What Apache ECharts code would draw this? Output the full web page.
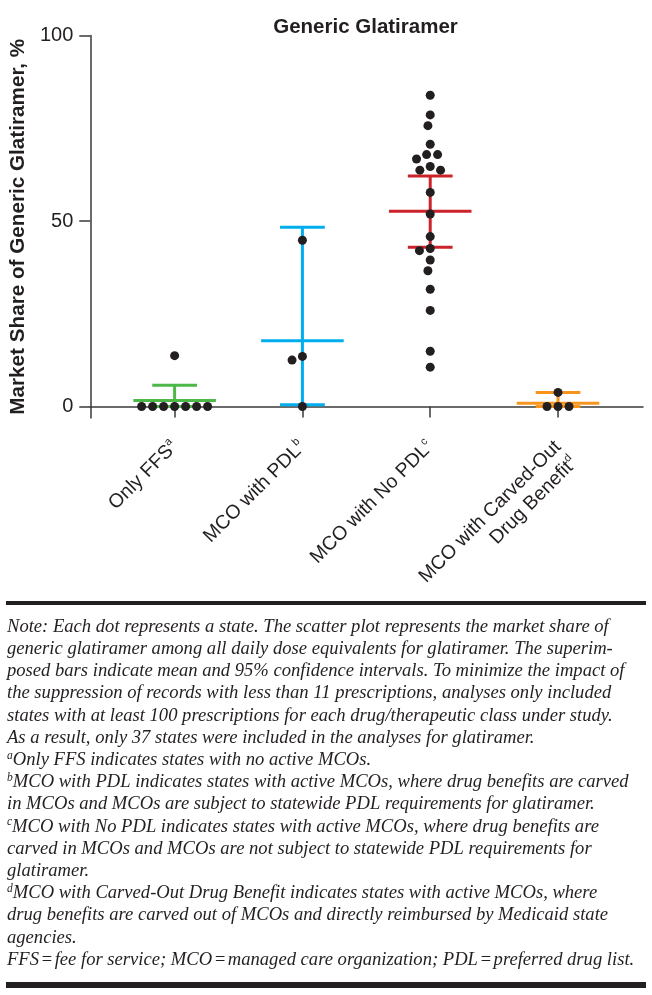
<!DOCTYPE html>
<html><head><meta charset="utf-8">
<script src="https://cdn.jsdelivr.net/npm/echarts@6/dist/echarts.min.js"></script>
<style>html,body{margin:0;padding:0;background:#fff}#c{width:652px;height:995px}</style>
</head><body><div id="c"></div>
<script>
// ---------- data ----------
const titleText = 'Generic Glatiramer';
const yAxisTitle = 'Market Share of Generic Glatiramer, %';
const categories = ['Only FFS', 'MCO with PDL', 'MCO with No PDL', 'MCO with Carved-Out\nDrug Benefit'];
const categorySup = ['a', 'b', 'c', 'd'];
const yTicks = [0, 50, 100];

const onlyFFS = [0, 0, 0, 0, 0, 0, 0, 13.7];
const mcoPDL = [44.8, 13.5, 12.5, 0];
const mcoNoPDL = [83.9, 78.6, 75.7, 70.7, 67.9, 67.9, 66.7, 64.7, 63.7, 63.7, 57.7,
                  51.9, 45.8, 42.6, 42.0, 39.5, 36.6, 31.6, 25.9, 14.9, 10.6];
const mcoCarvedOut = [3.8, 0, 0, 0];

const meanValues = [1.6, 17.7, 52.6, 0.9];
const ciLower = [0, 0.5, 42.9, 0];
const ciUpper = [5.7, 48.3, 62.1, 3.8];

const noteLines = [
  'Note: Each dot represents a state. The scatter plot represents the market share of',
  'generic glatiramer among all daily dose equivalents for glatiramer. The superim-',
  'posed bars indicate mean and 95% confidence intervals. To minimize the impact of',
  'the suppression of records with less than 11 prescriptions, analyses only included',
  'states with at least 100 prescriptions for each drug/therapeutic class under study.',
  'As a result, only 37 states were included in the analyses for glatiramer.',
  '{s|a}Only FFS indicates states with no active MCOs.',
  '{s|b}MCO with PDL indicates states with active MCOs, where drug benefits are carved',
  'in MCOs and MCOs are subject to statewide PDL requirements for glatiramer.',
  '{s|c}MCO with No PDL indicates states with active MCOs, where drug benefits are',
  'carved in MCOs and MCOs are not subject to statewide PDL requirements for',
  'glatiramer.',
  '{s|d}MCO with Carved-Out Drug Benefit indicates states with active MCOs, where',
  'drug benefits are carved out of MCOs and directly reimbursed by Medicaid state',
  'agencies.',
  'FFS\u200a=\u200afee for service; MCO\u200a=\u200amanaged care organization; PDL\u200a=\u200apreferred drug list.'
];

// ---------- styling ----------
const groups = [onlyFFS, mcoPDL, mcoNoPDL, mcoCarvedOut];
const groupColors = ['#4db848', '#00aeef', '#cc2229', '#f7941d'];
const FONT = '"Liberation Sans", Arial, Helvetica, sans-serif';
const SERIF = '"Liberation Serif", "Times New Roman", serif';
const INK = '#231f20';
const AXIS = '#3a3a3a';

const chart = echarts.init(document.getElementById('c'), null, { renderer: 'canvas' });

function xLabel(val) {
  const i = Math.round(val);
  const lines = categories[i].split('\n');
  const parts = lines.map((l, k) => '{m|' + l + '}' + (k === lines.length - 1 ? '{s|' + categorySup[i] + '}' : ''));
  if (lines.length > 1) return '{m| }\n' + parts.join('\n');
  return parts.join('\n');
}

const graphics = [
  { type: 'text', silent: true,
    style: { text: titleText, x: 365.5, y: 27, align: 'center', verticalAlign: 'middle',
      fill: INK, fontFamily: FONT, fontSize: 20.5, fontWeight: 'bold' } },
  { type: 'rect', shape: { x: 6, y: 601, width: 640, height: 4 }, style: { fill: INK }, silent: true },
  { type: 'rect', shape: { x: 6, y: 982, width: 640, height: 6 }, style: { fill: INK }, silent: true }
];
noteLines.forEach((t, k) => {
  graphics.push({
    type: 'text', silent: true,
    style: {
      text: t, x: 7, y: 627 + k * 22.2,
      verticalAlign: 'middle', align: 'left',
      fill: INK, fontFamily: SERIF, fontStyle: 'italic', fontSize: 18.6,
      rich: { s: { fontSize: 11.5, fontFamily: SERIF, fontStyle: 'italic', fill: INK, verticalAlign: 'top', lineHeight: 21 } }
    }
  });
});

const errorData = meanValues.map((m, i) => [i, m, ciLower[i], ciUpper[i]]);

function buildOption(scatterSeries) {
  return {
    animation: false,
    backgroundColor: '#fff',
    grid: { left: 88, right: 9, top: 35.5, bottom: 577, containLabel: false },
    xAxis: {
      type: 'value', min: -0.66, max: 3.665,
      splitLine: { show: false },
      axisLine: { show: true, onZero: true, lineStyle: { color: AXIS, width: 1.5 } },
      axisTick: { show: true, length: 11, customValues: [0, 1, 2, 3], lineStyle: { color: AXIS, width: 1.5 } },
      axisLabel: {
        customValues: [0, 1, 2, 3], rotate: 45, margin: 26,
        formatter: xLabel, fontFamily: FONT, fontSize: 19.5, color: INK, lineHeight: 23,
        rich: {
          m: { fontFamily: FONT, fontSize: 19.5, color: INK, lineHeight: 23 },
          s: { fontFamily: FONT, fontSize: 11, color: INK, verticalAlign: 'top', lineHeight: 23 }
        }
      }
    },
    yAxis: {
      type: 'value', min: -3.1, max: 100,
      splitLine: { show: false },
      axisLine: { show: true, onZero: false, lineStyle: { color: AXIS, width: 1.5 } },
      axisTick: { show: true, length: 11, customValues: yTicks, lineStyle: { color: AXIS, width: 1.5 } },
      axisLabel: { customValues: yTicks, fontFamily: FONT, fontSize: 20, color: INK, margin: 17 },
      name: yAxisTitle, nameLocation: 'middle', nameGap: 58, nameRotate: 90,
      nameTextStyle: { fontFamily: FONT, fontSize: 20.7, fontWeight: 'bold', color: INK }
    },
    graphic: graphics,
    series: [
      {
        type: 'custom', z: 1, clip: false,
        data: errorData,
        encode: { x: 0, y: [1, 2, 3] },
        renderItem: (params, api) => {
          const i = api.value(0), m = api.value(1), lo = api.value(2), hi = api.value(3);
          const color = groupColors[params.dataIndex];
          const style = { stroke: color, lineWidth: 3 };
          const seg = (xa, ya, xb, yb) => {
            const a = api.coord([xa, ya]), b = api.coord([xb, yb]);
            return { type: 'line', shape: { x1: a[0], y1: a[1], x2: b[0], y2: b[1] }, style };
          };
          const MEAN_HW = 0.323, CAP_HW = 0.175;
          return { type: 'group', children: [
            seg(i, lo, i, hi),
            seg(i - CAP_HW, hi, i + CAP_HW, hi),
            seg(i - CAP_HW, lo, i + CAP_HW, lo),
            seg(i - MEAN_HW, m, i + MEAN_HW, m)
          ] };
        }
      }
    ].concat(scatterSeries)
  };
}

function scatterOf(dataFn) {
  return groups.map((vals, ci) => ({
    type: 'scatter', z: 3, clip: false, symbol: 'circle', symbolSize: 9,
    itemStyle: { color: INK, opacity: 1 },
    emphasis: { disabled: true },
    data: dataFn(vals, ci)
  }));
}

chart.setOption(buildOption(scatterOf((vals, ci) => vals.map(v => [ci, v]))));

// beeswarm layout in pixel space using the chart's own scales
function swarm(values, ci) {
  const D = 11;
  const x0 = chart.convertToPixel({ gridIndex: 0 }, [ci, 0])[0];
  const unit = chart.convertToPixel({ gridIndex: 0 }, [ci + 1, 0])[0] - x0;
  const order = values.map((v, k) => k).sort((a, b) => values[b] - values[a]);
  const placed = [];
  const out = new Array(values.length);
  order.forEach(k => {
    const y = chart.convertToPixel({ gridIndex: 0 }, [ci, values[k]])[1];
    const near = placed.filter(p => Math.abs(p.y - y) < D);
    const cands = [0];
    near.forEach(p => { const w = Math.sqrt(D * D - (p.y - y) * (p.y - y)); cands.push(p.x - w, p.x + w); });
    const ok = cands.filter(c => near.every(p => (c - p.x) * (c - p.x) + (y - p.y) * (y - p.y) >= D * D - 1e-6));
    ok.sort((a, b) => Math.abs(a) - Math.abs(b) || a - b);
    const x = ok[0];
    placed.push({ x, y });
    out[k] = [ci + x / unit, values[k]];
  });
  return out;
}

chart.setOption(buildOption(scatterOf(swarm)), true);
</script></body></html>
